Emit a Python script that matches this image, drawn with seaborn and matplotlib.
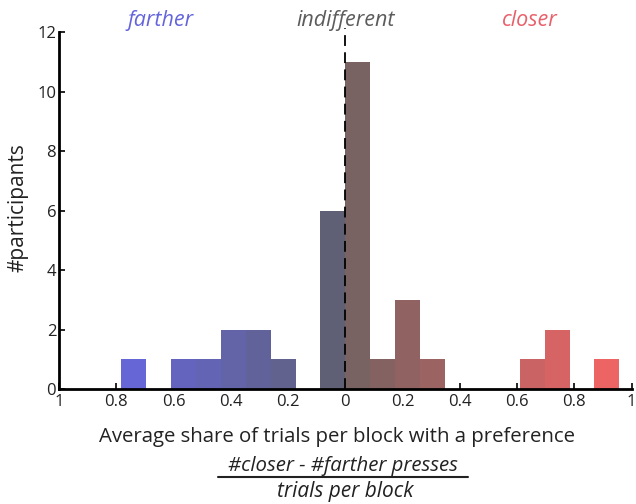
import numpy as np
import pandas as pd
import matplotlib
matplotlib.use("Agg")
import matplotlib.pyplot as plt
import seaborn as sns
from matplotlib.colors import LinearSegmentedColormap
from matplotlib.lines import Line2D

# ---- data ----
bin_centers = [-0.7395, -0.5655, -0.4785, -0.3915, -0.3045, -0.2175, -0.0435,
               0.0435, 0.1305, 0.2175, 0.3045, 0.6525, 0.7395, 0.9135]
counts = [1, 1, 1, 2, 2, 1, 6,
          11, 1, 3, 1, 1, 2, 1]
x_ticks = [-1, -0.8, -0.6, -0.4, -0.2, 0, 0.2, 0.4, 0.6, 0.8, 1]
x_tick_labels = ["1", "0.8", "0.6", "0.4", "0.2", "0", "0.2", "0.4", "0.6", "0.8", "1"]
y_ticks = [0, 2, 4, 6, 8, 10, 12]
top_labels = ["farther", "indifferent", "closer"]
top_label_x = [-0.645, 0.0, 0.645]

bin_width = 0.087
df = pd.DataFrame({"share": bin_centers, "n": counts})

sns.set_style("white")
plt.rcParams["font.family"] = ["Open Sans", "DejaVu Sans"]

W, H = 636, 504
fig = plt.figure(figsize=(W / 100, H / 100), dpi=100)
ax = fig.add_axes([59 / W, (H - 389) / H, (631.7 - 59) / W, (389 - 32.3) / H])

sns.histplot(data=df, x="share", weights="n", binwidth=bin_width,
             binrange=(-11 * bin_width, 11 * bin_width), ax=ax,
             element="bars", fill=True, linewidth=0, alpha=1.0)

# colour gradient: blue (farther) -> grey (indifferent) -> red (closer)
cmap = LinearSegmentedColormap.from_list(
    "pref",
    [(0.0, "#6a6aee"), (0.11, "#6666dc"), (0.499, "#5f6070"),
     (0.501, "#746262"), (0.955, "#ec6464"), (1.0, "#f06464")])
for p in ax.patches:
    c = p.get_x() + p.get_width() / 2
    p.set_facecolor(cmap((c + 1) / 2))
    p.set_edgecolor("none")

ax.set_xlim(-1, 1)
ax.set_ylim(0, 12)

ax.axvline(0, ymin=0, ymax=1.012, color="black", lw=1.3,
           linestyle=(0, (6, 3.5)), clip_on=False, zorder=5)

ax.set_xticks(x_ticks)
ax.set_xticklabels(x_tick_labels)
ax.set_yticks(y_ticks)
ax.tick_params(axis="both", direction="in", length=4, width=1.2,
               labelsize=12, colors="black", labelcolor="#222222")
ax.tick_params(axis="x", pad=3.5)
ax.tick_params(axis="y", pad=2)
ax.tick_params(axis="both", bottom=True, left=True)

for s in ["top", "right"]:
    ax.spines[s].set_visible(False)
for s in ["left", "bottom"]:
    ax.spines[s].set_linewidth(2.0)
    ax.spines[s].set_color("black")

ax.set_xlabel("")
ax.set_ylabel("")
fig.text(18 / W, 1 - 207.5 / H, "#participants", rotation=90, ha="center",
         va="center", fontsize=15, color="#222222")

label_colors = ["#6464dc", "#5c5c5c", "#e8606a"]
for t, xx, col in zip(top_labels, top_label_x, label_colors):
    ax.text(xx, 12.22, t, ha="center", va="baseline", fontsize=15.5,
            style="italic", color=col, clip_on=False)

fig.text(337 / W, 1 - 441.7 / H, "Average share of trials per block with a preference",
         ha="center", va="baseline", fontsize=14.7, color="#222222")
fig.text(343 / W, 1 - 471.2 / H, "#closer - #farther presses",
         ha="center", va="baseline", fontsize=14.7, style="italic", color="#222222")
fig.text(345 / W, 1 - 497.3 / H, "trials per block",
         ha="center", va="baseline", fontsize=15, style="italic", color="#222222")
fig.add_artist(Line2D([218 / W, 468 / W], [1 - 477.3 / H, 1 - 477.3 / H],
                      transform=fig.transFigure, color="#222222", lw=1.5))

fig.savefig("out.png", dpi=100)
